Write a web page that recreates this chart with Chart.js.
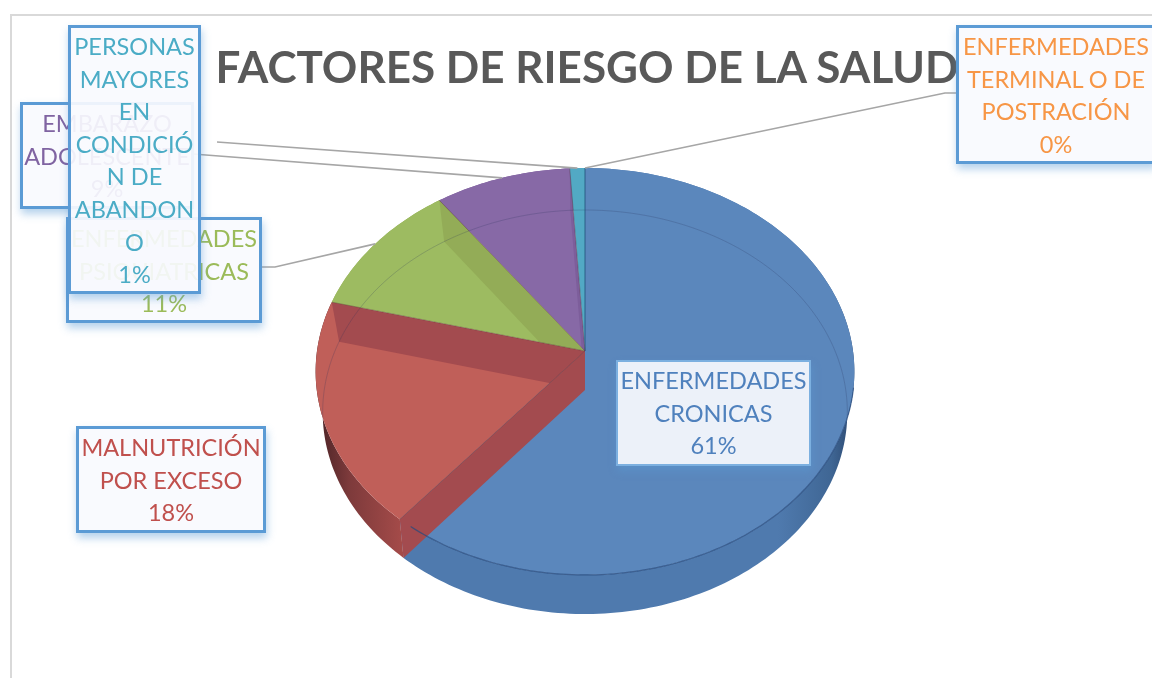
<!DOCTYPE html>
<html lang="es"><head><meta charset="utf-8">
<script src="https://cdn.jsdelivr.net/npm/chart.js@4"></script>
<style>
html,body{margin:0;padding:0;background:#fff;width:1152px;height:678px;overflow:hidden;font-family:Lato,"Open Sans",sans-serif}
#stage{position:relative;width:1152px;height:678px;overflow:hidden}
#frame{position:absolute;left:10px;top:14px;width:1200px;height:700px;border-left:2px solid #d9d9d9;border-top:2px solid #d9d9d9}
canvas{position:absolute;left:0;top:0}
#title{position:absolute;left:187px;width:800px;top:38px;text-align:center;font:700 44px/56px Lato,sans-serif;color:#595959;white-space:nowrap}
.lab{position:absolute;box-sizing:border-box;border:3px solid #5b9bd5;background:rgba(248,250,254,.92);box-shadow:1px 5px 8px rgba(91,155,213,.45);text-align:center;font:400 23.5px/32.6px Lato,sans-serif;padding-top:2px;white-space:nowrap}
#lab0{left:616px;top:360px;width:195px;height:106px;border-width:2px;border-color:#7cb0e0;z-index:3}
#lab1{left:76px;top:426px;width:190px;height:107px;z-index:3}
#lab2{left:66px;top:217px;width:196px;height:106px;z-index:2}
#lab3{left:20px;top:102px;width:174px;height:107px;z-index:1}
#lab4{left:68px;top:25px;width:133px;height:269px;z-index:4}
#lab5{left:956px;top:25px;width:200px;height:139px;z-index:3}
</style></head><body>
<div id="stage"><div id="frame"></div><canvas id="c" width="1152" height="678"></canvas><div id="title"></div></div>
<script>
const chartTitle = "FACTORES DE RIESGO DE LA SALUD";
const labelLines = [
  ["ENFERMEDADES","CRONICAS"],
  ["MALNUTRICIÓN","POR EXCESO"],
  ["ENFERMEDADES","PSIQUIATRICAS"],
  ["EMBARAZO","ADOLESCENTE"],
  ["PERSONAS","MAYORES","EN","CONDICIÓ","N DE","ABANDON","O"],
  ["ENFERMEDADES","TERMINAL O DE","POSTRACIÓN"]
];
const categories = labelLines.map(l => l.join(" "));
const values = [61, 18, 11, 9, 1, 0];
const faceColors = ["#5b87bc","#c05f59","#9dbb61","#8769a6","#52a9c4","#f79646"];
const wallColors = ["#4f7aae","#a34b4f","#93ac57","#7d5e9b","#3f86a3","#f79646"];
const textColors = ["#4f81bd","#c0504d","#9bbb59","#8064a2","#4bacc6","#f79646"];

document.getElementById("title").textContent = chartTitle;
labelLines.forEach((lines, i) => {
  const d = document.createElement("div");
  d.className = "lab"; d.id = "lab" + i; d.style.color = textColors[i];
  d.innerHTML = lines.concat(values[i] + "%").join("<br>");
  document.getElementById("stage").appendChild(d);
});

/* perspective projection of the library's arc geometry */
const topK = -0.1007, topA = 0.7515, baseK = -0.109, baseA = 0.7448, baseB = 0.973, depthF = 0.1455;
function topPt(el, t){
  const X = Math.cos(t), Y = Math.sin(t), d = 1 + topK * Y;
  return [el.x + el.outerRadius * X / d, el.y + el.outerRadius * topA * Y / d];
}
function basePt(el, t){
  const X = Math.cos(t), Y = Math.sin(t), d = 1 + baseK * Y;
  return [el.x + el.outerRadius * baseB * X / d, el.y + el.outerRadius * depthF + el.outerRadius * baseA * Y / d];
}
function sweep(a, b, f){
  const n = Math.max(2, Math.ceil(Math.abs(b - a) / 0.02)), out = [];
  for (let i = 0; i <= n; i++) out.push(f(a + (b - a) * i / n));
  return out;
}
function poly(ctx, pts){
  ctx.beginPath();
  pts.forEach((p, i) => i ? ctx.lineTo(p[0], p[1]) : ctx.moveTo(p[0], p[1]));
  ctx.closePath();
}
function wedge(el){
  return [[el.x, el.y]].concat(sweep(el.startAngle, el.endAngle, t => topPt(el, t)));
}
function radialWall(el, t){
  return [[el.x, el.y], topPt(el, t), basePt(el, t), [el.x, el.y + el.outerRadius * depthF]];
}
Chart.ArcElement.prototype.draw = function(ctx){
  if (this.circumference <= 0) return;
  ctx.save();
  poly(ctx, wedge(this));
  ctx.fillStyle = this.options.backgroundColor;
  ctx.fill();
  ctx.restore();
};

const pie3d = {
  id: "pie3d",
  beforeDatasetsDraw(chart){
    const ctx = chart.ctx, arcs = chart.getDatasetMeta(0).data;
    arcs.forEach((el, i) => {
      if (el.circumference <= 0) return;
      const R = el.outerRadius;
      const g = ctx.createLinearGradient(el.x - R, 0, el.x + R, 0);
      if (i === 1) {
        g.addColorStop(0, "#4a2326"); g.addColorStop(0.06, "#7d3a3b");
        g.addColorStop(0.2, "#b5524f"); g.addColorStop(1, "#b5524f");
      } else {
        g.addColorStop(0, wallColors[i]); g.addColorStop(0.86, wallColors[i]);
        g.addColorStop(0.96, "#3f6694"); g.addColorStop(1, "#2c4870");
      }
      const up = sweep(el.startAngle, el.endAngle, t => topPt(el, t));
      const dn = sweep(el.endAngle, el.startAngle, t => basePt(el, t));
      poly(ctx, up.concat(dn));
      ctx.fillStyle = g; ctx.fill();
    });
  },
  afterDatasetsDraw(chart){
    const ctx = chart.ctx, arcs = chart.getDatasetMeta(0).data;
    const full = [0, Math.PI * 2];
    /* radial walls seen through the top face */
    arcs.forEach((el, i) => {
      if (el.circumference <= 0) return;
      if (Math.sin(el.endAngle) < 0) {
        ctx.save(); poly(ctx, wedge(el)); ctx.clip();
        poly(ctx, radialWall(el, el.endAngle));
        ctx.fillStyle = wallColors[i]; ctx.fill();
        ctx.restore();
      }
      if (Math.sin(el.startAngle) > 0) {
        poly(ctx, radialWall(el, el.startAngle));
        ctx.fillStyle = wallColors[i]; ctx.fill();
      }
    });
    const el0 = arcs[0];
    /* base ring visible through the transparent top */
    ctx.save();
    poly(ctx, sweep(full[0], full[1], t => topPt(el0, t))); ctx.clip();
    poly(ctx, sweep(full[0], full[1], t => basePt(el0, t)));
    ctx.strokeStyle = "rgba(40,50,90,.22)"; ctx.lineWidth = 1; ctx.stroke();
    ctx.restore();
    /* front rim of the blue slice */
    ctx.beginPath();
    sweep(el0.startAngle + 1.75, el0.endAngle - 0.05, t => topPt(el0, t)).forEach((p, i) => i ? ctx.lineTo(p[0], p[1]) : ctx.moveTo(p[0], p[1]));
    ctx.strokeStyle = "rgba(40,75,125,.75)"; ctx.lineWidth = 1.2; ctx.stroke();
    /* slice seams */
    arcs.forEach((el, i) => {
      if (el.circumference <= 0) return;
      const p = topPt(el, el.startAngle);
      ctx.beginPath(); ctx.moveTo(el.x, el.y); ctx.lineTo(p[0], p[1]);
      ctx.strokeStyle = i === 0 ? "rgba(30,80,120,.8)" : "rgba(90,50,60,.4)"; ctx.lineWidth = 1; ctx.stroke();
    });
    /* leader lines from the slice rims towards the label boxes */
    const leaders = [[2,[262,267],[275,267]],[3,[193,154],[193,154]],[4,[217,142],[217,142]],[5,[956,93],[945,93]]];
    ctx.strokeStyle = "#a6a6a6"; ctx.lineWidth = 1.6;
    leaders.forEach(([i, a, b]) => {
      const el = arcs[i], m = topPt(el, (el.startAngle + el.endAngle) / 2);
      ctx.beginPath(); ctx.moveTo(a[0], a[1]); ctx.lineTo(b[0], b[1]); ctx.lineTo(m[0], m[1]); ctx.stroke();
    });
  }
};

new Chart(document.getElementById("c"), {
  type: "pie",
  data: { labels: categories, datasets: [{ data: values, backgroundColor: faceColors, borderWidth: 0, hoverOffset: 0 }] },
  options: {
    responsive: false, animation: false,
    layout: { padding: { left: 317, right: 299, top: 83, bottom: 59 } },
    plugins: { legend: { display: false }, title: { display: false }, tooltip: { enabled: false } }
  },
  plugins: [pie3d]
});
</script></body></html>
